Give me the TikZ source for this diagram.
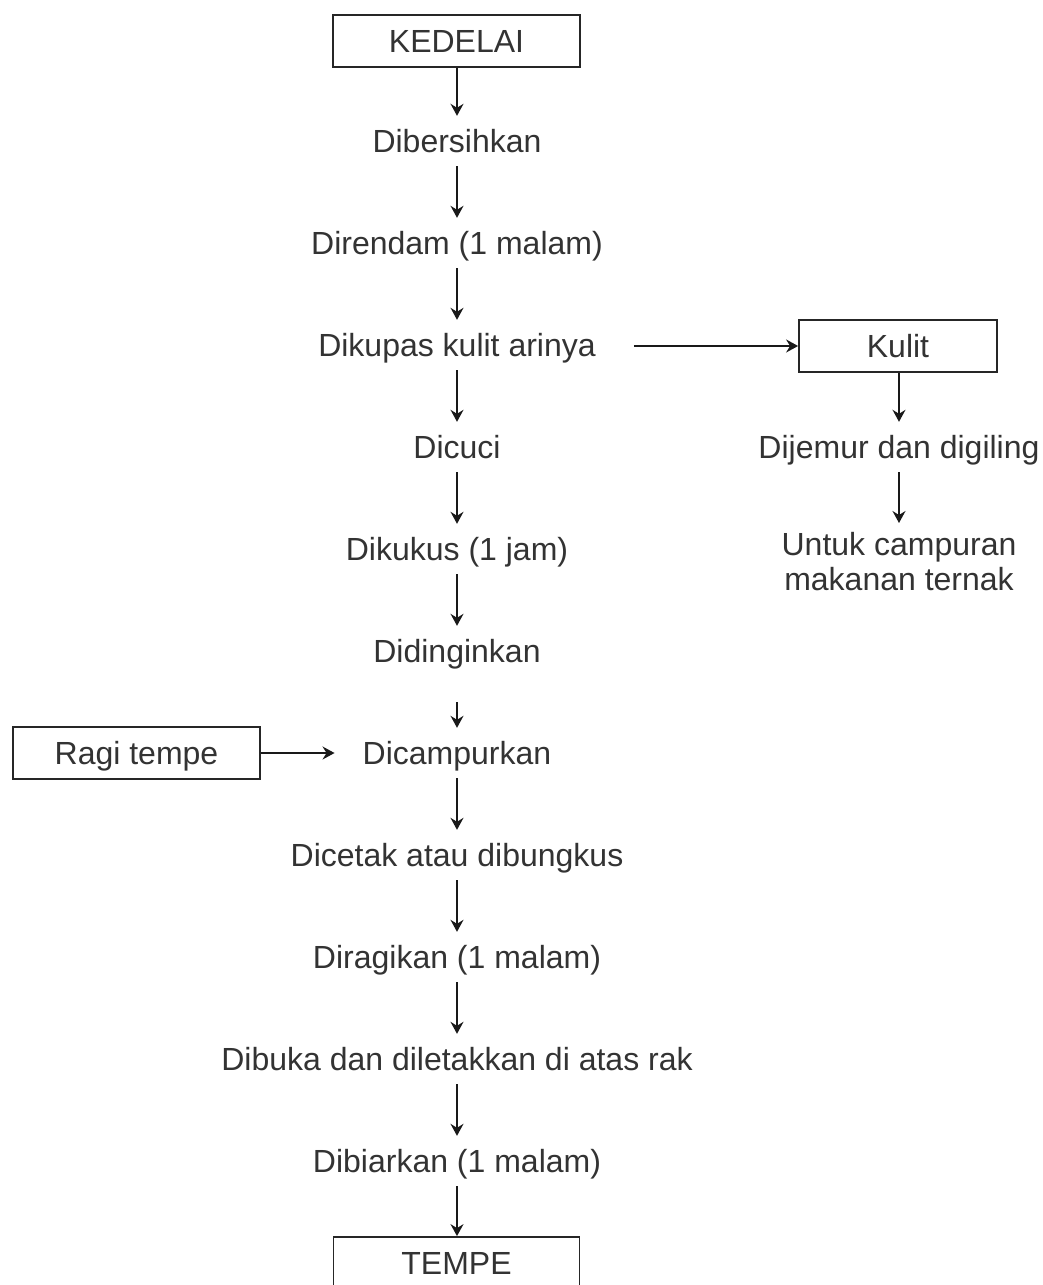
\documentclass[tikz,border=0pt]{standalone}
\usepackage{fontspec}
\setmainfont{Liberation Sans}
\usetikzlibrary{arrows.meta}
\begin{document}
\begin{tikzpicture}[x=1pt,y=-1pt,
  every node/.style={font=\fontsize{32}{35}\selectfont, text=black!80},
  lbl/.style={inner sep=0pt, minimum height=50pt, text height=22.9pt, text depth=0pt},
  boxnode/.style={draw=black!85, line width=1.8pt, inner sep=0pt, minimum height=52pt, text height=22.9pt, text depth=0pt},
  conn/.style={draw=black!90, line width=1.6pt, -{Stealth[length=12pt,width=13pt,inset=4pt]}}
]
\clip (0,0) rectangle (1042,1285);
\fill[white] (0,0) rectangle (1042,1285);

% main column
\node[boxnode, minimum width=247pt] (kedelai) at (456.5,41) {KEDELAI};
\node[lbl] (dibersihkan) at (457,141) {Dibersihkan};
\node[lbl] (direndam) at (457,243) {Direndam (1 malam)};
\node[lbl] (dikupas) at (457,345) {Dikupas kulit arinya};
\node[lbl] (dicuci) at (457,447) {Dicuci};
\node[lbl] (dikukus) at (457,549) {Dikukus (1 jam)};
\node[lbl] (didinginkan) at (457,651) {Didinginkan};
\node[lbl] (dicampurkan) at (457,753) {Dicampurkan};
\node[lbl] (dicetak) at (457,855) {Dicetak atau dibungkus};
\node[lbl] (diragikan) at (457,957) {Diragikan (1 malam)};
\node[lbl] (dibuka) at (457,1059) {Dibuka dan diletakkan di atas rak};
\node[lbl] (dibiarkan) at (457,1161) {Dibiarkan (1 malam)};
\node[boxnode, minimum width=246pt] (tempe) at (456.5,1263) {TEMPE};

% side branches
\node[boxnode, minimum width=198pt] (kulit) at (898,346) {Kulit};
\node[lbl] (dijemur) at (899,447) {Dijemur dan digiling};
\node[inner sep=0pt, inner ysep=9pt, anchor=north, align=center] (untuk) at (899,523) {Untuk campuran\\makanan ternak};
\node[boxnode, minimum width=247pt] (ragi) at (136.5,753) {Ragi tempe};

% connectors
\draw[conn] (kedelai.south -| dibersihkan.north) -- (dibersihkan.north);
\draw[conn] (dibersihkan) -- (direndam);
\draw[conn] (direndam) -- (dikupas);
\draw[conn] (dikupas) -- (dicuci);
\draw[conn] (dicuci) -- (dikukus);
\draw[conn] (dikukus) -- (didinginkan);
\draw[conn] ([yshift=-26pt]didinginkan.south) -- (dicampurkan.north);
\draw[conn] (dicampurkan) -- (dicetak);
\draw[conn] (dicetak) -- (diragikan);
\draw[conn] (diragikan) -- (dibuka);
\draw[conn] (dibuka) -- (dibiarkan);
\draw[conn] (dibiarkan.south) -- (dibiarkan.south |- tempe.north);

\draw[conn] ([xshift=38pt]dikupas.east |- kulit.west) -- (kulit.west);
\draw[conn] (kulit.south -| dijemur.north) -- (dijemur.north);
\draw[conn] (dijemur.south) -- (untuk.north);
\draw[conn] (ragi.east) -- ([xshift=-28pt]dicampurkan.west);
\end{tikzpicture}
\end{document}
